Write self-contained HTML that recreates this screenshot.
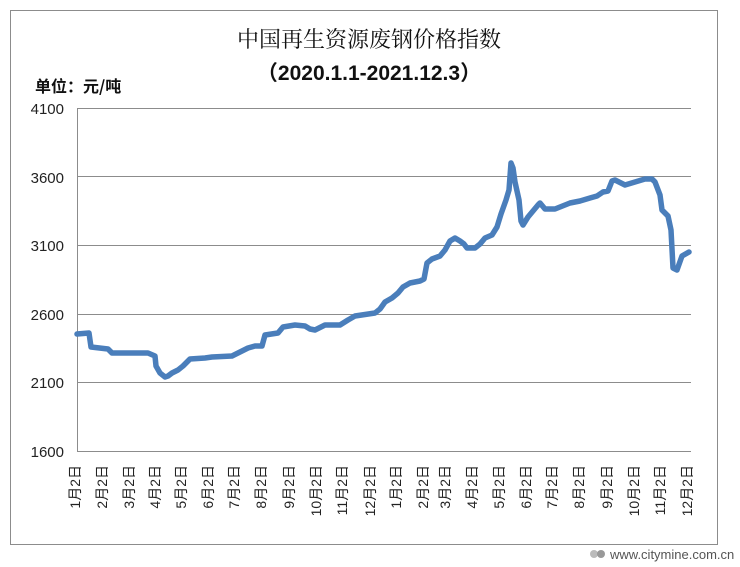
<!DOCTYPE html>
<html><head><meta charset="utf-8"><style>
body{margin:0;background:#fff;}
svg{display:block;}
</style></head><body>
<svg width="740" height="567" xmlns="http://www.w3.org/2000/svg" font-family="Liberation Sans, Noto Sans CJK SC, sans-serif">
<rect x="0" y="0" width="740" height="567" fill="#fff"/>
<rect x="10.5" y="10.5" width="707" height="534" fill="none" stroke="#8c8c8c" stroke-width="1"/>
<text x="369" y="47" font-size="22" text-anchor="middle" fill="#111" font-family="Noto Serif CJK SC, serif">中国再生资源废钢价格指数</text>
<text x="369" y="80" font-size="21" font-weight="bold" text-anchor="middle" fill="#111" font-family="Liberation Sans, Noto Sans CJK SC, sans-serif">（2020.1.1-2021.12.3）</text>
<text x="35" y="92" font-size="16" font-weight="bold" fill="#111" font-family="Noto Sans CJK SC, sans-serif">单位：元/吨</text>
<g stroke="#8c8c8c" stroke-width="1">
<line x1="77" y1="108.5" x2="691" y2="108.5"/>
<line x1="77" y1="176.5" x2="691" y2="176.5"/>
<line x1="77" y1="245.5" x2="691" y2="245.5"/>
<line x1="77" y1="314.5" x2="691" y2="314.5"/>
<line x1="77" y1="382.5" x2="691" y2="382.5"/>
<line x1="77" y1="451.5" x2="691" y2="451.5"/>
<line x1="77.5" y1="108" x2="77.5" y2="451"/>
</g>
<g font-size="15" fill="#222" text-anchor="end">
<text x="64" y="114">4100</text>
<text x="64" y="183">3600</text>
<text x="64" y="251">3100</text>
<text x="64" y="320">2600</text>
<text x="64" y="388">2100</text>
<text x="64" y="457">1600</text>
</g>
<g font-size="14" fill="#222" text-anchor="end" font-family="Liberation Sans, Noto Sans CJK SC, sans-serif">
<text transform="translate(80,465) rotate(-90)">1月2日</text>
<text transform="translate(107,465) rotate(-90)">2月2日</text>
<text transform="translate(134,465) rotate(-90)">3月2日</text>
<text transform="translate(160,465) rotate(-90)">4月2日</text>
<text transform="translate(186,465) rotate(-90)">5月2日</text>
<text transform="translate(213,465) rotate(-90)">6月2日</text>
<text transform="translate(239,465) rotate(-90)">7月2日</text>
<text transform="translate(266,465) rotate(-90)">8月2日</text>
<text transform="translate(294,465) rotate(-90)">9月2日</text>
<text transform="translate(321,465) rotate(-90)">10月2日</text>
<text transform="translate(347,465) rotate(-90)">11月2日</text>
<text transform="translate(375,465) rotate(-90)">12月2日</text>
<text transform="translate(401,465) rotate(-90)">1月2日</text>
<text transform="translate(428,465) rotate(-90)">2月2日</text>
<text transform="translate(450,465) rotate(-90)">3月2日</text>
<text transform="translate(477,465) rotate(-90)">4月2日</text>
<text transform="translate(504,465) rotate(-90)">5月2日</text>
<text transform="translate(531,465) rotate(-90)">6月2日</text>
<text transform="translate(557,465) rotate(-90)">7月2日</text>
<text transform="translate(584,465) rotate(-90)">8月2日</text>
<text transform="translate(612,465) rotate(-90)">9月2日</text>
<text transform="translate(639,465) rotate(-90)">10月2日</text>
<text transform="translate(665,465) rotate(-90)">11月2日</text>
<text transform="translate(692,465) rotate(-90)">12月2日</text>
</g>
<polyline fill="none" stroke="#4a7ebb" stroke-width="5.5" stroke-linejoin="round" stroke-linecap="round" points="77,334 89,333 91,347 108,349 112,353 148,353 155,356 156,366 160,373 165,377 168,376 172,373 178,370 183,366 190,359 205,358 212,357 232,356 240,352 248,348 255,346 262,346 265,335 278,333 283,327 295,325 305,326 310,329 315,330 325,325 340,325 348,320 355,316 375,313 380,309 385,302 392,298 398,293 403,287 410,283 415,282 420,281 424,279 427,263 432,259 440,256 445,250 450,241 455,238 460,241 464,244 467,248 475,248 480,244 485,238 492,235 497,227 501,214 506,200 509,190 511,163 513,168 515,182 519,200 521,221 523,225 528,217 533,211 538,205 540,203 545,209 555,209 560,207 570,203 580,201 590,198 597,196 603,192 608,191 612,181 615,180 625,185 635,182 645,179 652,179 655,182 660,195 662,210 668,216 671,230 673,268 677,270 682,256 689,252"/>
<g>
<circle cx="594" cy="554" r="4" fill="#bbb"/><circle cx="601" cy="554" r="4" fill="#999"/>
<text x="610" y="559" font-size="13" fill="#555">www.citymine.com.cn</text>
</g>
</svg>
</body></html>
